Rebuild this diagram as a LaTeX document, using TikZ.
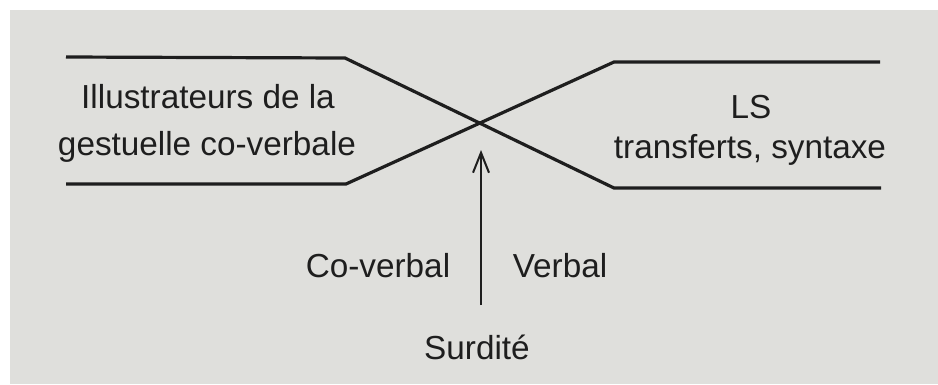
\documentclass[tikz,border=0pt]{standalone}
\usepackage{fontspec}
\setmainfont{Liberation Sans}
\usetikzlibrary{arrows.meta}
\definecolor{paper}{HTML}{DFDFDC}
\definecolor{ink}{HTML}{1E1E1E}
\tikzset{
  band/.style={draw=ink, line width=3.2pt, line join=miter},
  lbl/.style={text=ink, font=\fontsize{33.3}{40}\selectfont, anchor=base, inner sep=0pt},
  uparrow/.style={draw=ink, line width=2pt, -{Straight Barb[length=20pt, width=16pt, line width=2pt]}}
}
\begin{document}
\begin{tikzpicture}[x=1pt, y=-1pt]
\useasboundingbox (0,0) rectangle (938,384);
\fill[white] (0,0) rectangle (938,384);
\fill[paper] (10,10) rectangle (938,384);
% bands
\draw[band] (66,57) -- (345,58) -- (614,188) -- (881,188);
\draw[band] (66,184) -- (346,184) -- (614,62) -- (880,62);
% labels
\node[lbl] (ill1) at (208,108) {Illustrateurs de la};
\node[lbl] (ill2) at (207,155) {gestuelle co-verbale};
\node[lbl] (ls1) at (751,118) {LS};
\node[lbl] (ls2) at (750,158) {transferts, syntaxe};
\node[lbl] (cov) at (378,277) {Co-verbal};
\node[lbl] (verb) at (560,277) {Verbal};
\node[lbl] (surd) at (477,359) {Surdité};
% arrow
\coordinate (abase) at (481,305);
\coordinate (atip) at (481,150);
\draw[uparrow] (abase) -- (atip);
\end{tikzpicture}
\end{document}
